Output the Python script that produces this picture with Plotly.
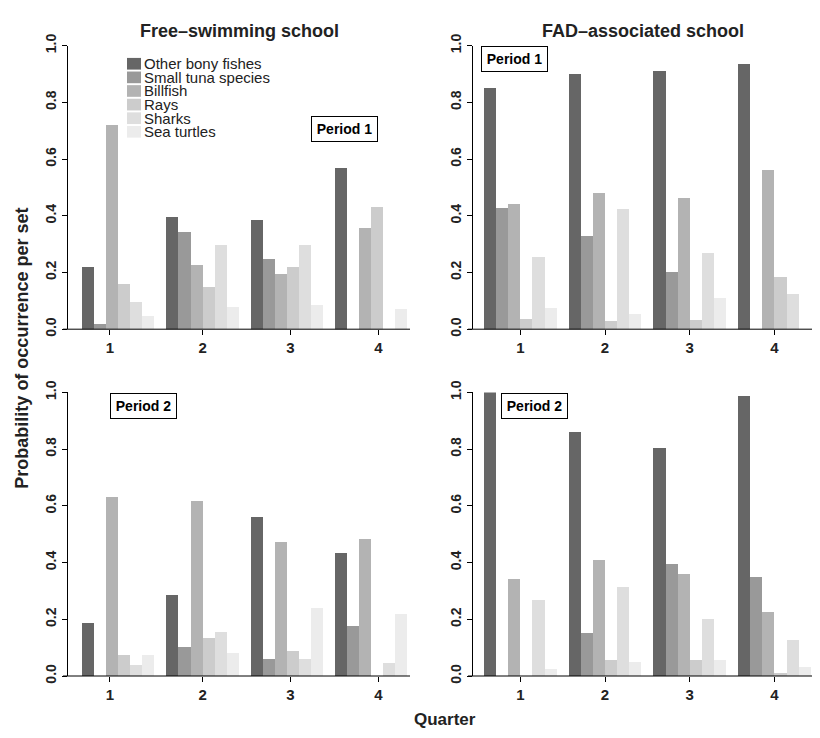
import plotly.graph_objects as go

# ---------------- data ----------------
series = ["Other bony fishes", "Small tuna species", "Billfish", "Rays", "Sharks", "Sea turtles"]
quarters = ["1", "2", "3", "4"]
colors = ["#666666", "#999999", "#b3b3b3", "#cccccc", "#dedede", "#ececec"]

# values per series over quarters 1..4
free_p1_other = [0.22, 0.398, 0.385, 0.571]
free_p1_tuna = [0.02, 0.343, 0.249, 0.0]
free_p1_billfish = [0.723, 0.229, 0.195, 0.357]
free_p1_rays = [0.162, 0.15, 0.22, 0.431]
free_p1_sharks = [0.097, 0.298, 0.298, 0.0]
free_p1_turtles = [0.049, 0.079, 0.087, 0.071]

fad_p1_other = [0.851, 0.90, 0.913, 0.938]
fad_p1_tuna = [0.43, 0.331, 0.202, 0.0]
fad_p1_billfish = [0.442, 0.48, 0.463, 0.562]
fad_p1_rays = [0.038, 0.03, 0.034, 0.186]
fad_p1_sharks = [0.257, 0.425, 0.269, 0.125]
fad_p1_turtles = [0.075, 0.054, 0.112, 0.0]

free_p2_other = [0.186, 0.286, 0.559, 0.434]
free_p2_tuna = [0.0, 0.10, 0.058, 0.175]
free_p2_billfish = [0.629, 0.616, 0.472, 0.48]
free_p2_rays = [0.074, 0.133, 0.088, 0.0]
free_p2_sharks = [0.038, 0.153, 0.058, 0.046]
free_p2_turtles = [0.074, 0.079, 0.237, 0.219]

fad_p2_other = [1.0, 0.86, 0.804, 0.987]
fad_p2_tuna = [0.0, 0.15, 0.393, 0.348]
fad_p2_billfish = [0.34, 0.409, 0.357, 0.224]
fad_p2_rays = [0.0, 0.054, 0.054, 0.009]
fad_p2_sharks = [0.266, 0.311, 0.2, 0.125]
fad_p2_turtles = [0.023, 0.047, 0.054, 0.03]

panels_data = [
    [free_p1_other, free_p1_tuna, free_p1_billfish, free_p1_rays, free_p1_sharks, free_p1_turtles],
    [fad_p1_other, fad_p1_tuna, fad_p1_billfish, fad_p1_rays, fad_p1_sharks, fad_p1_turtles],
    [free_p2_other, free_p2_tuna, free_p2_billfish, free_p2_rays, free_p2_sharks, free_p2_turtles],
    [fad_p2_other, fad_p2_tuna, fad_p2_billfish, fad_p2_rays, fad_p2_sharks, fad_p2_turtles],
]
col_titles = ["Free\u2013swimming school", "FAD\u2013associated school"]
period_labels = ["Period 1", "Period 1", "Period 2", "Period 2"]
y_ticks = [0.0, 0.2, 0.4, 0.6, 0.8, 1.0]

# ---------------- layout helpers ----------------
# the page body has an 8px margin, so the figure is sized to fit the window
OX, OY = 8, 8
FW, FH = 804, 722
FONT = "Liberation Sans, Arial, Helvetica, sans-serif"


def fx(p):
    return (p - OX) / FW


def fy(p):
    return 1 - (p - OY) / FH


# panel pixel boxes (window coordinates): left, right, top (y=1), bottom (y=0)
panel_px = [
    dict(l=68, r=410, t=34.3, b=326, xr=[-0.17, 28.22], tv=[3.3, 11.0, 18.3, 25.6]),
    dict(l=473, r=812, t=34.3, b=326, xr=[0.09, 28.1], tv=[4.0, 11.0, 18.0, 25.0]),
    dict(l=68, r=410, t=391, b=682.7, xr=[-0.17, 28.22], tv=[3.3, 11.0, 18.3, 25.6]),
    dict(l=473, r=812, t=391, b=682.7, xr=[0.09, 28.1], tv=[4.0, 11.0, 18.0, 25.0]),
]
period_box_px = [(344.5, 120), (514.5, 48.5), (143, 404.5), (534.5, 404.5)]

fig = go.Figure()
shapes = []
annotations = []

for k, pdata in enumerate(panels_data):
    sfx = "" if k == 0 else str(k + 1)
    for j, name in enumerate(series):
        xs = [1 + 7 * q + j + 0.5 for q in range(len(quarters))]
        fig.add_trace(go.Bar(
            x=xs, y=pdata[j], width=1, name=name,
            marker=dict(color=colors[j], line=dict(width=0)),
            xaxis="x" + sfx, yaxis="y" + sfx, showlegend=False,
        ))
    bx = panel_px[k]
    fig.layout["xaxis" + sfx] = dict(
        domain=[fx(bx["l"]), min(1.0, fx(bx["r"]))], range=bx["xr"], anchor="y" + sfx,
        tickmode="array", tickvals=bx["tv"], ticktext=quarters,
        ticks="outside", ticklen=5, tickcolor="black", tickwidth=1,
        showline=False, showgrid=False, zeroline=False,
        tickfont=dict(family=FONT, size=15, color="#222222", weight="bold"),
        fixedrange=True,
    )
    fig.layout["yaxis" + sfx] = dict(
        domain=[fy(bx["b"]), fy(bx["t"])], range=[0, 1], anchor="x" + sfx,
        tickmode="array", tickvals=y_ticks, ticktext=["%.1f" % v for v in y_ticks],
        ticks="outside", ticklen=5, tickcolor="black", tickwidth=1,
        showline=True, linecolor="black", linewidth=1,
        showgrid=False, zeroline=False, tickangle=-90,
        tickfont=dict(family=FONT, size=14, color="#222222", weight="bold"),
        fixedrange=True,
    )
    # x-axis baseline, extending slightly left of the y axis
    shapes.append(dict(type="line", xref="paper", yref="paper",
                       x0=fx(bx["l"] - 5), x1=min(1.0, fx(bx["r"])), y0=fy(bx["b"]), y1=fy(bx["b"]),
                       line=dict(color="black", width=1)))
    cx, cy = period_box_px[k]
    annotations.append(dict(
        text="<b>%s</b>" % period_labels[k], x=fx(cx), y=fy(cy), xref="paper", yref="paper",
        showarrow=False, xanchor="center", yanchor="middle",
        font=dict(family=FONT, size=14, color="black"),
        bordercolor="black", borderwidth=1, borderpad=1, width=63, height=22,
        bgcolor="white",
    ))

# column titles, centred over each plotting region
for t, cx in zip(col_titles, [239, 642.5]):
    annotations.append(dict(text="<b>%s</b>" % t, x=fx(cx), y=fy(19), xref="paper", yref="paper",
                            showarrow=False, xanchor="center", yanchor="middle",
                            font=dict(family=FONT, size=18, color="#222222")))

# axis titles
annotations.append(dict(text="<b>Probability of occurrence per set</b>", x=fx(22), y=fy(346),
                        xref="paper", yref="paper", showarrow=False, textangle=-90,
                        xanchor="center", yanchor="middle",
                        font=dict(family=FONT, size=18, color="#222222")))
annotations.append(dict(text="<b>Quarter</b>", x=fx(445), y=fy(727), xref="paper", yref="paper",
                        showarrow=False, xanchor="center", yanchor="middle",
                        font=dict(family=FONT, size=17, color="#222222")))

# manual legend (top-left panel)
for j, name in enumerate(series):
    yc = 53 + 14 * j
    shapes.append(dict(type="rect", xref="paper", yref="paper",
                       x0=fx(127), x1=fx(141), y0=fy(yc + 6), y1=fy(yc - 6),
                       fillcolor=colors[j], line=dict(width=0)))
    annotations.append(dict(text=name, x=fx(141.5), y=fy(yc), xref="paper", yref="paper",
                            showarrow=False, xanchor="left", yanchor="middle",
                            font=dict(family=FONT, size=15, color="#222222")))

fig.update_layout(
    width=FW, height=FH, autosize=False,
    margin=dict(l=0, r=0, t=0, b=0),
    paper_bgcolor="white", plot_bgcolor="white",
    barmode="overlay", bargap=0,
    shapes=shapes, annotations=annotations,
    showlegend=False,
)

fig.write_html("out.html")
